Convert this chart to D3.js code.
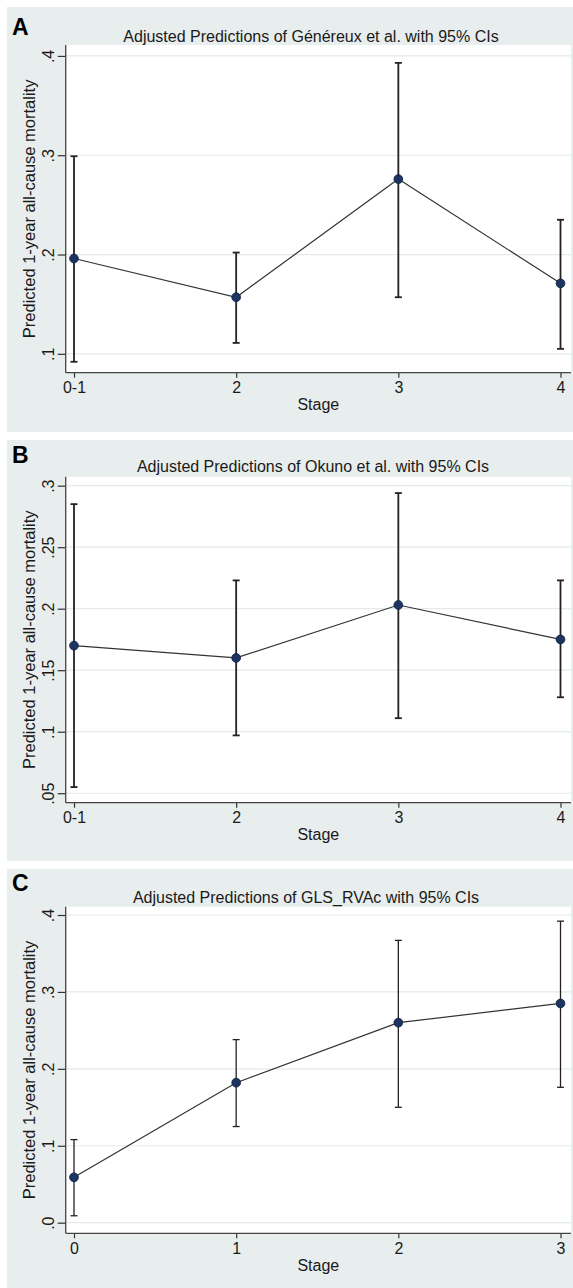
<!DOCTYPE html>
<html>
<head>
<meta charset="utf-8">
<script src="https://cdn.jsdelivr.net/npm/d3@7"></script>
<style>
  body { margin: 0; background: #fff; }
  text { font-family: "Liberation Sans", Arial, sans-serif; fill: #1a1a1a; }
</style>
</head>
<body>
<script>
// categories
const stagesAB = ["0-1", "2", "3", "4"];
const stagesC = ["0", "1", "2", "3"];

// A: Généreux et al.
const genereuxEst = [0.196, 0.157, 0.276, 0.171];
const genereuxLo = [0.092, 0.111, 0.157, 0.105];
const genereuxHi = [0.299, 0.202, 0.393, 0.235];

// B: Okuno et al.
const okunoEst = [0.170, 0.160, 0.203, 0.175];
const okunoLo = [0.055, 0.097, 0.111, 0.128];
const okunoHi = [0.285, 0.223, 0.294, 0.223];

// C: GLS_RVAc
const glsEst = [0.059, 0.182, 0.260, 0.285];
const glsLo = [0.009, 0.125, 0.150, 0.176];
const glsHi = [0.108, 0.238, 0.367, 0.392];

// y ticks
const ticksA = [0.1, 0.2, 0.3, 0.4];
const tickLabelsA = [".1", ".2", ".3", ".4"];
const ticksB = [0.05, 0.1, 0.15, 0.2, 0.25, 0.3];
const tickLabelsB = [".05", ".1", ".15", ".2", ".25", ".3"];
const ticksC = [0, 0.1, 0.2, 0.3, 0.4];
const tickLabelsC = [".0", ".1", ".2", ".3", ".4"];

const W = 573, H = 1288;
const bg = "#e8eded";

const svg = d3.select("body").append("svg")
    .attr("width", W)
    .attr("height", H);

svg.append("rect").attr("width", W).attr("height", H).attr("fill", "#fff");

const panels = [
    {letter: "A", title: "Adjusted Predictions of Généreux et al. with 95% CIs",
     cats: stagesAB, est: genereuxEst, lo: genereuxLo, hi: genereuxHi,
     ticks: ticksA, labels: tickLabelsA, dom: [0.081, 0.411],
     boxTop: 7, boxBottom: 432, letterY: 35, titleY: 42, titleX: 311,
     plotTop: 45, plotBottom: 372.7, barW: 1.8},
    {letter: "B", title: "Adjusted Predictions of Okuno et al. with 95% CIs",
     cats: stagesAB, est: okunoEst, lo: okunoLo, hi: okunoHi,
     ticks: ticksB, labels: tickLabelsB, dom: [0.0423, 0.3073],
     boxTop: 440, boxBottom: 861, letterY: 463, titleY: 471.7, titleX: 313,
     plotTop: 476.7, plotBottom: 802.7, barW: 1.8},
    {letter: "C", title: "Adjusted Predictions of GLS_RVAc with 95% CIs",
     cats: stagesC, est: glsEst, lo: glsLo, hi: glsHi,
     ticks: ticksC, labels: tickLabelsC, dom: [-0.0138, 0.4108],
     boxTop: 869, boxBottom: H, letterY: 891, titleY: 903.3, titleX: 306,
     plotTop: 906.7, plotBottom: 1233.3, barW: 1.3}
];

const plotLeft = 65.7, plotRight = 571;

panels.forEach(p => {
    const g = svg.append("g");

    g.append("rect")
        .attr("x", 7).attr("y", p.boxTop)
        .attr("width", W - 7).attr("height", p.boxBottom - p.boxTop)
        .attr("fill", bg);

    g.append("rect")
        .attr("x", plotLeft).attr("y", p.plotTop)
        .attr("width", plotRight - plotLeft).attr("height", p.plotBottom - p.plotTop)
        .attr("fill", "#fff");

    const x = d3.scalePoint().domain(p.cats).range([74, 560.5]);
    const y = d3.scaleLinear().domain(p.dom).range([p.plotBottom, p.plotTop]);

    // grid
    g.selectAll("line.grid")
        .data(p.ticks)
        .enter()
        .append("line")
        .attr("class", "grid")
        .attr("x1", plotLeft)
        .attr("x2", plotRight)
        .attr("y1", d => y(d))
        .attr("y2", d => y(d))
        .attr("stroke", "#e6e9ea")
        .attr("stroke-width", 1.2);

    // y axis
    const ya = g.append("g")
        .attr("transform", "translate(" + plotLeft + ",0)")
        .call(d3.axisLeft(y).tickValues(p.ticks).tickSize(8)
            .tickFormat((d, i) => p.labels[i]));
    ya.select(".domain").remove();
    ya.selectAll(".tick line").attr("stroke", "#333").attr("stroke-width", 1.2);
    ya.selectAll(".tick text")
        .attr("transform", "rotate(-90)")
        .attr("text-anchor", "middle")
        .attr("x", 0)
        .attr("y", -12)
        .attr("dy", 0)
        .style("font-size", "16px");

    // x axis
    const xa = g.append("g")
        .attr("transform", "translate(0," + p.plotBottom + ")")
        .call(d3.axisBottom(x).tickSize(5).tickPadding(4));
    xa.select(".domain").remove();
    xa.selectAll(".tick line").attr("stroke", "#333").attr("stroke-width", 1.2);
    xa.selectAll(".tick text")
        .attr("dy", 0)
        .attr("y", 20.6)
        .style("font-size", "16px");

    // axis lines
    g.append("line")
        .attr("x1", plotLeft).attr("x2", plotLeft)
        .attr("y1", p.plotTop).attr("y2", p.plotBottom)
        .attr("stroke", "#444").attr("stroke-width", 1.3);
    g.append("line")
        .attr("x1", plotLeft).attr("x2", plotRight)
        .attr("y1", p.plotBottom).attr("y2", p.plotBottom)
        .attr("stroke", "#444").attr("stroke-width", 1.3);

    // labels
    g.append("text")
        .attr("x", 12).attr("y", p.letterY)
        .style("font-size", "23px")
        .style("font-weight", "bold")
        .style("fill", "#000")
        .text(p.letter);

    g.append("text")
        .attr("x", p.titleX).attr("y", p.titleY)
        .attr("text-anchor", "middle")
        .style("font-size", "16px")
        .text(p.title);

    g.append("text")
        .attr("x", (plotLeft + plotRight) / 2).attr("y", p.plotBottom + 37.5)
        .attr("text-anchor", "middle")
        .style("font-size", "16px")
        .text("Stage");

    g.append("text")
        .attr("transform", "translate(35," + (p.plotTop + p.plotBottom) / 2 + ") rotate(-90)")
        .attr("text-anchor", "middle")
        .style("font-size", "16.5px")
        .text("Predicted 1-year all-cause mortality");

    const rows = p.cats.map((c, i) => ({cat: c, est: p.est[i], lo: p.lo[i], hi: p.hi[i]}));

    // error bars
    const eb = g.selectAll("g.ci").data(rows).enter().append("g").attr("class", "ci");
    eb.append("line")
        .attr("x1", d => x(d.cat)).attr("x2", d => x(d.cat))
        .attr("y1", d => y(d.lo)).attr("y2", d => y(d.hi))
        .attr("stroke", "#222").attr("stroke-width", p.barW);
    eb.append("line")
        .attr("x1", d => x(d.cat) - 3.5).attr("x2", d => x(d.cat) + 3.5)
        .attr("y1", d => y(d.lo)).attr("y2", d => y(d.lo))
        .attr("stroke", "#222").attr("stroke-width", p.barW);
    eb.append("line")
        .attr("x1", d => x(d.cat) - 3.5).attr("x2", d => x(d.cat) + 3.5)
        .attr("y1", d => y(d.hi)).attr("y2", d => y(d.hi))
        .attr("stroke", "#222").attr("stroke-width", p.barW);

    // connecting line
    g.append("path")
        .datum(rows)
        .attr("fill", "none")
        .attr("stroke", "#333")
        .attr("stroke-width", 1.2)
        .attr("d", d3.line().x(d => x(d.cat)).y(d => y(d.est)));

    // markers
    g.selectAll("circle.pt")
        .data(rows)
        .enter()
        .append("circle")
        .attr("class", "pt")
        .attr("cx", d => x(d.cat))
        .attr("cy", d => y(d.est))
        .attr("r", 4.4)
        .attr("fill", "#1c3461")
        .attr("stroke", "#0f1f3d")
        .attr("stroke-width", 0.8);
});
</script>
</body>
</html>
